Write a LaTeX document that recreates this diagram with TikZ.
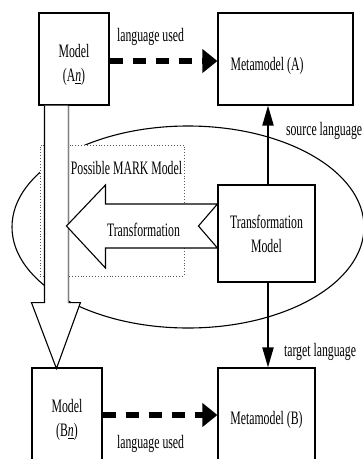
\documentclass[tikz,border=0pt]{standalone}
\usepackage{fontspec}
\setmainfont[FakeStretch=0.62]{Liberation Serif}
\usepackage{tikz}
\usetikzlibrary{arrows.meta}
\tikzset{
  Kasten/.style={draw, fill=white, line width=1.1pt, inner sep=0pt, align=center}, % Modellkaesten
  Hohl/.style={draw, fill=white, line width=1.1pt, line join=miter}, % Hohlpfeile
  SPfeil/.style={line width=5.5pt, dash pattern=on 13pt off 10pt,
    -{Triangle[length=15pt,width=23pt]}}, % language used
  LPfeil/.style={line width=2pt, -{Triangle[length=20pt,width=11pt]}}, % source/target
  Beschr/.style={inner sep=0pt, align=center}
}

\begin{document}
\begin{tikzpicture}[x=1pt, y=-1pt,
font=\fontsize{19}{24}\selectfont
]
\useasboundingbox (0,0) rectangle (363,459);

%Hintergrund
\draw[line width=1.1pt] (188,227) ellipse [x radius=176pt, y radius=101pt];
\node[draw=gray!70!black, dotted, fill=white, line width=0.9pt, inner sep=0pt,
  minimum width=144pt, minimum height=131pt] (MARK) at (112,210.5) {};

%Kaesten
\node[Kasten, minimum width=70pt, minimum height=92pt,
  label={[Beschr, yshift=-6pt]center:Model\\(A\underline{\textit{n}})}] (An) at (74,59) {};
\node[Kasten, minimum width=135pt, minimum height=92pt,
  label={[Beschr, xshift=-18.5pt, yshift=-7pt]center:Metamodel (A)}] (MA) at (285.5,59) {};
\node[Kasten, minimum width=97pt, minimum height=97pt] (TM) at (266.5,233.5) {Transformation\\Model};
\node[Kasten, minimum width=70pt, minimum height=104pt] (Bn) at (67,420) {Model\\(B\underline{\textit{n}})};
\node[Kasten, minimum width=97pt, minimum height=104pt] (MB) at (266.5,420) {Metamodel (B)};

%Pfeile
\draw[SPfeil] ([yshift=-2pt]An.east) -- node[Beschr, anchor=base, pos=0.38, yshift=20pt]{language used}
  ([yshift=-2pt]MA.west);
\draw[SPfeil] ([yshift=5pt]Bn.east) -- node[Beschr, anchor=base, pos=0.418, yshift=-33pt]{language used}
  ([yshift=5pt]MB.west);
\draw[LPfeil] ([xshift=1.5pt]TM.north) -- node[Beschr, anchor=base west, pos=0.625, xshift=17pt]{source language}
  ([xshift=1.5pt]TM.north |- MA.south);
\draw[LPfeil] ([xshift=1.5pt]TM.south) -- node[Beschr, anchor=base west, pos=0.872, xshift=15pt]{target language}
  ([xshift=1.5pt]TM.south |- MB.north);

%Hohlpfeil nach unten
\begin{scope}[shift={(An.south west)}]
\filldraw[Hohl] (6,0) -- (6,197) -- (-7,197) -- (18,263) -- (42,197) -- (30,197) -- (30,0);
\draw[gray, line width=1.1pt] (30,0) -- (30,197);
\end{scope}

%Transformation
\begin{scope}[shift={(TM.west)}]
\filldraw[Hohl] (0,-29.5) -- (-112,-29.5) -- (-112,-48.5) -- (-151,-7.5) -- (-112,34.5)
  -- (-112,14.5) -- (0,14.5) -- (-19,-7.5) -- cycle;
\node[Beschr, anchor=base] (Tr) at (-74,2.5) {Transformation};
\end{scope}

\node[Beschr, anchor=base] (MARKtxt) at ([shift={(14.5,30)}]MARK.north) {Possible MARK Model};
\end{tikzpicture}
\end{document}
